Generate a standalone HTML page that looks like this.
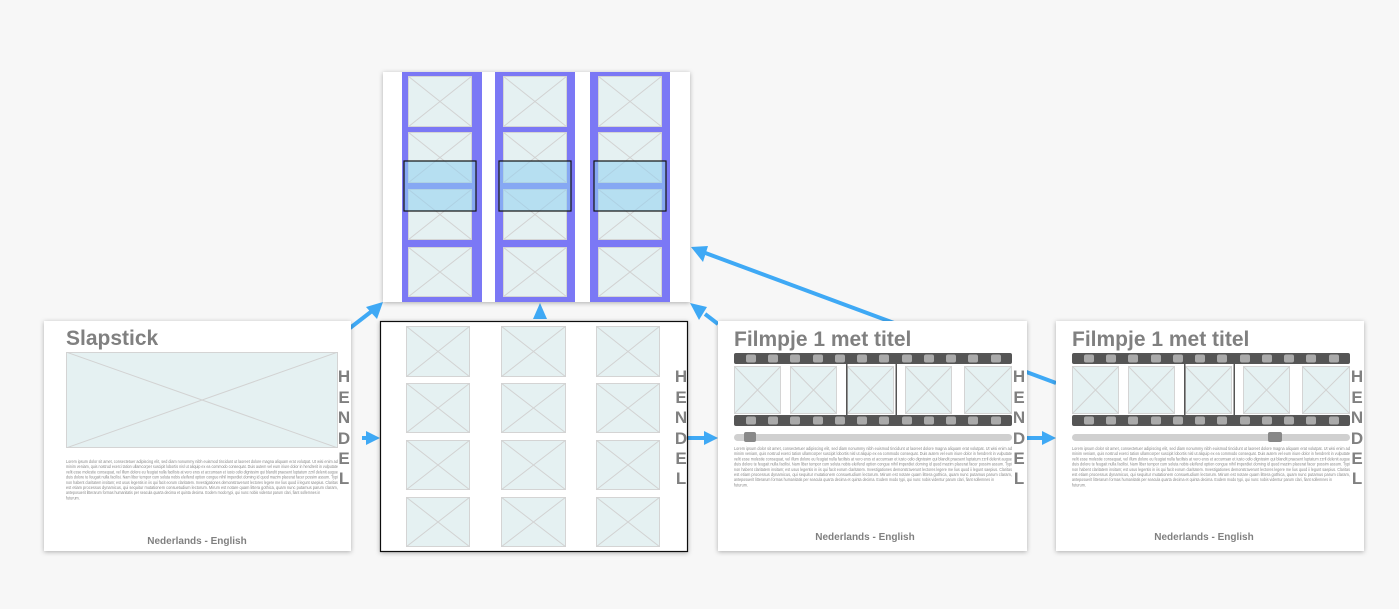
<!DOCTYPE html>
<html><head><meta charset="utf-8"><style>
html,body{margin:0;padding:0;background:#f7f7f7;}
svg{display:block;font-family:"Liberation Sans",sans-serif;}
</style></head><body>
<svg width="1399" height="609" viewBox="0 0 1399 609" xmlns="http://www.w3.org/2000/svg">
<defs>
<filter id="sh" x="-5%" y="-5%" width="110%" height="115%"><feDropShadow dx="0" dy="1" stdDeviation="2.5" flood-color="#000" flood-opacity="0.3"/></filter>
<symbol id="xb" viewBox="0 0 100 100" preserveAspectRatio="none">
<rect x="0" y="0" width="100" height="100" fill="#e5f1f2" stroke="#d4d4d4" stroke-width="2" vector-effect="non-scaling-stroke"/>
<path d="M0 0L100 100M100 0L0 100" stroke="#d2d2d2" stroke-width="1" vector-effect="non-scaling-stroke"/>
</symbol>
<g id="strip">
<rect x="0" y="0" width="278" height="11" rx="2" fill="#555"/>
<rect x="0" y="62" width="278" height="11" rx="2" fill="#555"/>
<g fill="#aaa">
<rect x="12" y="1.5" width="10" height="8" rx="2"/><rect x="34" y="1.5" width="10" height="8" rx="2"/><rect x="56" y="1.5" width="10" height="8" rx="2"/><rect x="79" y="1.5" width="10" height="8" rx="2"/><rect x="101" y="1.5" width="10" height="8" rx="2"/><rect x="123" y="1.5" width="10" height="8" rx="2"/><rect x="145" y="1.5" width="10" height="8" rx="2"/><rect x="168" y="1.5" width="10" height="8" rx="2"/><rect x="190" y="1.5" width="10" height="8" rx="2"/><rect x="212" y="1.5" width="10" height="8" rx="2"/><rect x="234" y="1.5" width="10" height="8" rx="2"/><rect x="257" y="1.5" width="10" height="8" rx="2"/>
<rect x="12" y="63.5" width="10" height="8" rx="2"/><rect x="34" y="63.5" width="10" height="8" rx="2"/><rect x="56" y="63.5" width="10" height="8" rx="2"/><rect x="79" y="63.5" width="10" height="8" rx="2"/><rect x="101" y="63.5" width="10" height="8" rx="2"/><rect x="123" y="63.5" width="10" height="8" rx="2"/><rect x="145" y="63.5" width="10" height="8" rx="2"/><rect x="168" y="63.5" width="10" height="8" rx="2"/><rect x="190" y="63.5" width="10" height="8" rx="2"/><rect x="212" y="63.5" width="10" height="8" rx="2"/><rect x="234" y="63.5" width="10" height="8" rx="2"/><rect x="257" y="63.5" width="10" height="8" rx="2"/>
</g>
<use href="#xb" x="0" y="13" width="47" height="48"/>
<use href="#xb" x="56" y="13" width="47" height="48"/>
<use href="#xb" x="113" y="13" width="47" height="48"/>
<use href="#xb" x="171" y="13" width="47" height="48"/>
<use href="#xb" x="230" y="13" width="48" height="48"/>
<rect x="112" y="11" width="1.5" height="51" fill="#555"/>
<rect x="161.5" y="11" width="1.5" height="51" fill="#555"/>
</g>
<g id="lorem" font-size="4.3" fill="#888">
<text x="0" y="0" textLength="278" lengthAdjust="spacingAndGlyphs">Lorem ipsum dolor sit amet, consectetuer adipiscing elit, sed diam nonummy nibh euismod tincidunt ut laoreet dolore magna aliquam erat volutpat. Ut wisi enim ad</text>
<text x="0" y="5.2" textLength="278" lengthAdjust="spacingAndGlyphs">minim veniam, quis nostrud exerci tation ullamcorper suscipit lobortis nisl ut aliquip ex ea commodo consequat. Duis autem vel eum iriure dolor in hendrerit in vulputate</text>
<text x="0" y="10.4" textLength="278" lengthAdjust="spacingAndGlyphs">velit esse molestie consequat, vel illum dolore eu feugiat nulla facilisis at vero eros et accumsan et iusto odio dignissim qui blandit praesent luptatum zzril delenit augue</text>
<text x="0" y="15.6" textLength="278" lengthAdjust="spacingAndGlyphs">duis dolore te feugait nulla facilisi. Nam liber tempor cum soluta nobis eleifend option congue nihil imperdiet doming id quod mazim placerat facer possim assum. Typi</text>
<text x="0" y="20.8" textLength="278" lengthAdjust="spacingAndGlyphs">non habent claritatem insitam; est usus legentis in iis qui facit eorum claritatem. Investigationes demonstraverunt lectores legere me lius quod ii legunt saepius. Claritas</text>
<text x="0" y="26" textLength="278" lengthAdjust="spacingAndGlyphs">est etiam processus dynamicus, qui sequitur mutationem consuetudium lectorum. Mirum est notare quam littera gothica, quam nunc putamus parum claram,</text>
<text x="0" y="31.2" textLength="260" lengthAdjust="spacingAndGlyphs">anteposuerit litterarum formas humanitatis per seacula quarta decima et quinta decima. Eodem modo typi, qui nunc nobis videntur parum clari, fiant sollemnes in</text>
<text x="0" y="36.4" textLength="14" lengthAdjust="spacingAndGlyphs">futurum.</text>
</g>
<g id="hendel" font-size="17" font-weight="bold" fill="#808080" text-anchor="middle">
<text x="0" y="382">H</text><text x="0" y="403">E</text><text x="0" y="423">N</text><text x="0" y="444">D</text><text x="0" y="464">E</text><text x="0" y="484">L</text>
</g>
</defs>

<!-- connectors -->
<g stroke="#3fa9f5" stroke-width="4" fill="none">
<line x1="1056" y1="383" x2="700" y2="251"/>
<line x1="350" y1="328" x2="372" y2="311"/>
<line x1="362" y1="438" x2="368" y2="438"/>
<line x1="688" y1="438" x2="704" y2="438"/>
<line x1="1012" y1="438" x2="1042" y2="438"/>
<line x1="718" y1="324" x2="705" y2="314"/>
</g>
<g fill="#3fa9f5">
<polygon points="691,247 708,246 703,262"/>
<polygon points="383,302 377,319 366,307"/>
<polygon points="380,438 366,431 366,445"/>
<polygon points="718,438 704,431 704,445"/>
<polygon points="1056,438 1042,431 1042,445"/>
<polygon points="540,303 533,319 547,319"/>
<polygon points="690,303 707,307 699,320"/>
</g>

<!-- top panel -->
<g filter="url(#sh)"><rect x="383" y="72" width="307" height="230" fill="#fff"/></g>
<g fill="#7b78f5">
<rect x="402" y="72" width="80" height="230"/>
<rect x="495" y="72" width="80" height="230"/>
<rect x="590" y="72" width="80" height="230"/>
</g>
<use href="#xb" x="408" y="76" width="64" height="51"/><use href="#xb" x="408" y="132" width="64" height="51"/><use href="#xb" x="408" y="189" width="64" height="51"/><use href="#xb" x="408" y="247" width="64" height="50"/>
<use href="#xb" x="503" y="76" width="64" height="51"/><use href="#xb" x="503" y="132" width="64" height="51"/><use href="#xb" x="503" y="189" width="64" height="51"/><use href="#xb" x="503" y="247" width="64" height="50"/>
<use href="#xb" x="598" y="76" width="64" height="51"/><use href="#xb" x="598" y="132" width="64" height="51"/><use href="#xb" x="598" y="189" width="64" height="51"/><use href="#xb" x="598" y="247" width="64" height="50"/>
<g fill="#8fd0f0" fill-opacity="0.55" stroke="#111" stroke-width="1.2">
<rect x="404" y="161" width="72" height="50"/>
<rect x="499" y="161" width="72" height="50"/>
<rect x="594" y="161" width="72" height="50"/>
</g>

<!-- slapstick card -->
<g filter="url(#sh)"><rect x="44" y="321" width="307" height="230" fill="#fff"/></g>
<text x="66" y="345" font-size="21" font-weight="bold" fill="#808080">Slapstick</text>
<use href="#xb" x="66" y="352" width="272" height="96"/>
<use href="#lorem" transform="translate(66,463) scale(0.978,1)"/>
<text x="197" y="544" font-size="10" font-weight="bold" fill="#808080" text-anchor="middle">Nederlands - English</text>
<use href="#hendel" x="344" y="0"/>

<!-- middle panel -->
<g filter="url(#sh)"><rect x="380.5" y="321.5" width="307" height="230" fill="#fff" stroke="#111" stroke-width="1.2"/></g>
<use href="#xb" x="406" y="326" width="64" height="51"/><use href="#xb" x="501" y="326" width="65" height="51"/><use href="#xb" x="596" y="326" width="64" height="51"/>
<use href="#xb" x="406" y="383" width="64" height="50"/><use href="#xb" x="501" y="383" width="65" height="50"/><use href="#xb" x="596" y="383" width="64" height="50"/>
<use href="#xb" x="406" y="440" width="64" height="50"/><use href="#xb" x="501" y="440" width="65" height="50"/><use href="#xb" x="596" y="440" width="64" height="50"/>
<use href="#xb" x="406" y="497" width="64" height="50"/><use href="#xb" x="501" y="497" width="65" height="50"/><use href="#xb" x="596" y="497" width="64" height="50"/>
<use href="#hendel" x="681" y="0"/>

<!-- film card 1 -->
<g filter="url(#sh)"><rect x="718" y="321" width="309" height="230" fill="#fff"/></g>
<text x="734" y="346" font-size="21" font-weight="bold" fill="#808080">Filmpje 1 met titel</text>
<use href="#strip" x="734" y="353"/>
<rect x="734" y="434" width="278" height="7" rx="3.5" fill="#d0d0d0"/>
<rect x="744" y="432" width="12" height="10" rx="2" fill="#888"/>
<use href="#lorem" x="734" y="450"/>
<text x="865" y="540" font-size="10" font-weight="bold" fill="#808080" text-anchor="middle">Nederlands - English</text>
<use href="#hendel" x="1019" y="0"/>

<!-- film card 2 -->
<g filter="url(#sh)"><rect x="1056" y="321" width="308" height="230" fill="#fff"/></g>
<text x="1072" y="346" font-size="21" font-weight="bold" fill="#808080">Filmpje 1 met titel</text>
<use href="#strip" x="1072" y="353"/>
<rect x="1072" y="434" width="278" height="7" rx="3.5" fill="#d0d0d0"/>
<rect x="1268" y="432" width="14" height="10" rx="2" fill="#888"/>
<use href="#lorem" x="1072" y="450"/>
<text x="1204" y="540" font-size="10" font-weight="bold" fill="#808080" text-anchor="middle">Nederlands - English</text>
<use href="#hendel" x="1357" y="0"/>
</svg>
</body></html>
